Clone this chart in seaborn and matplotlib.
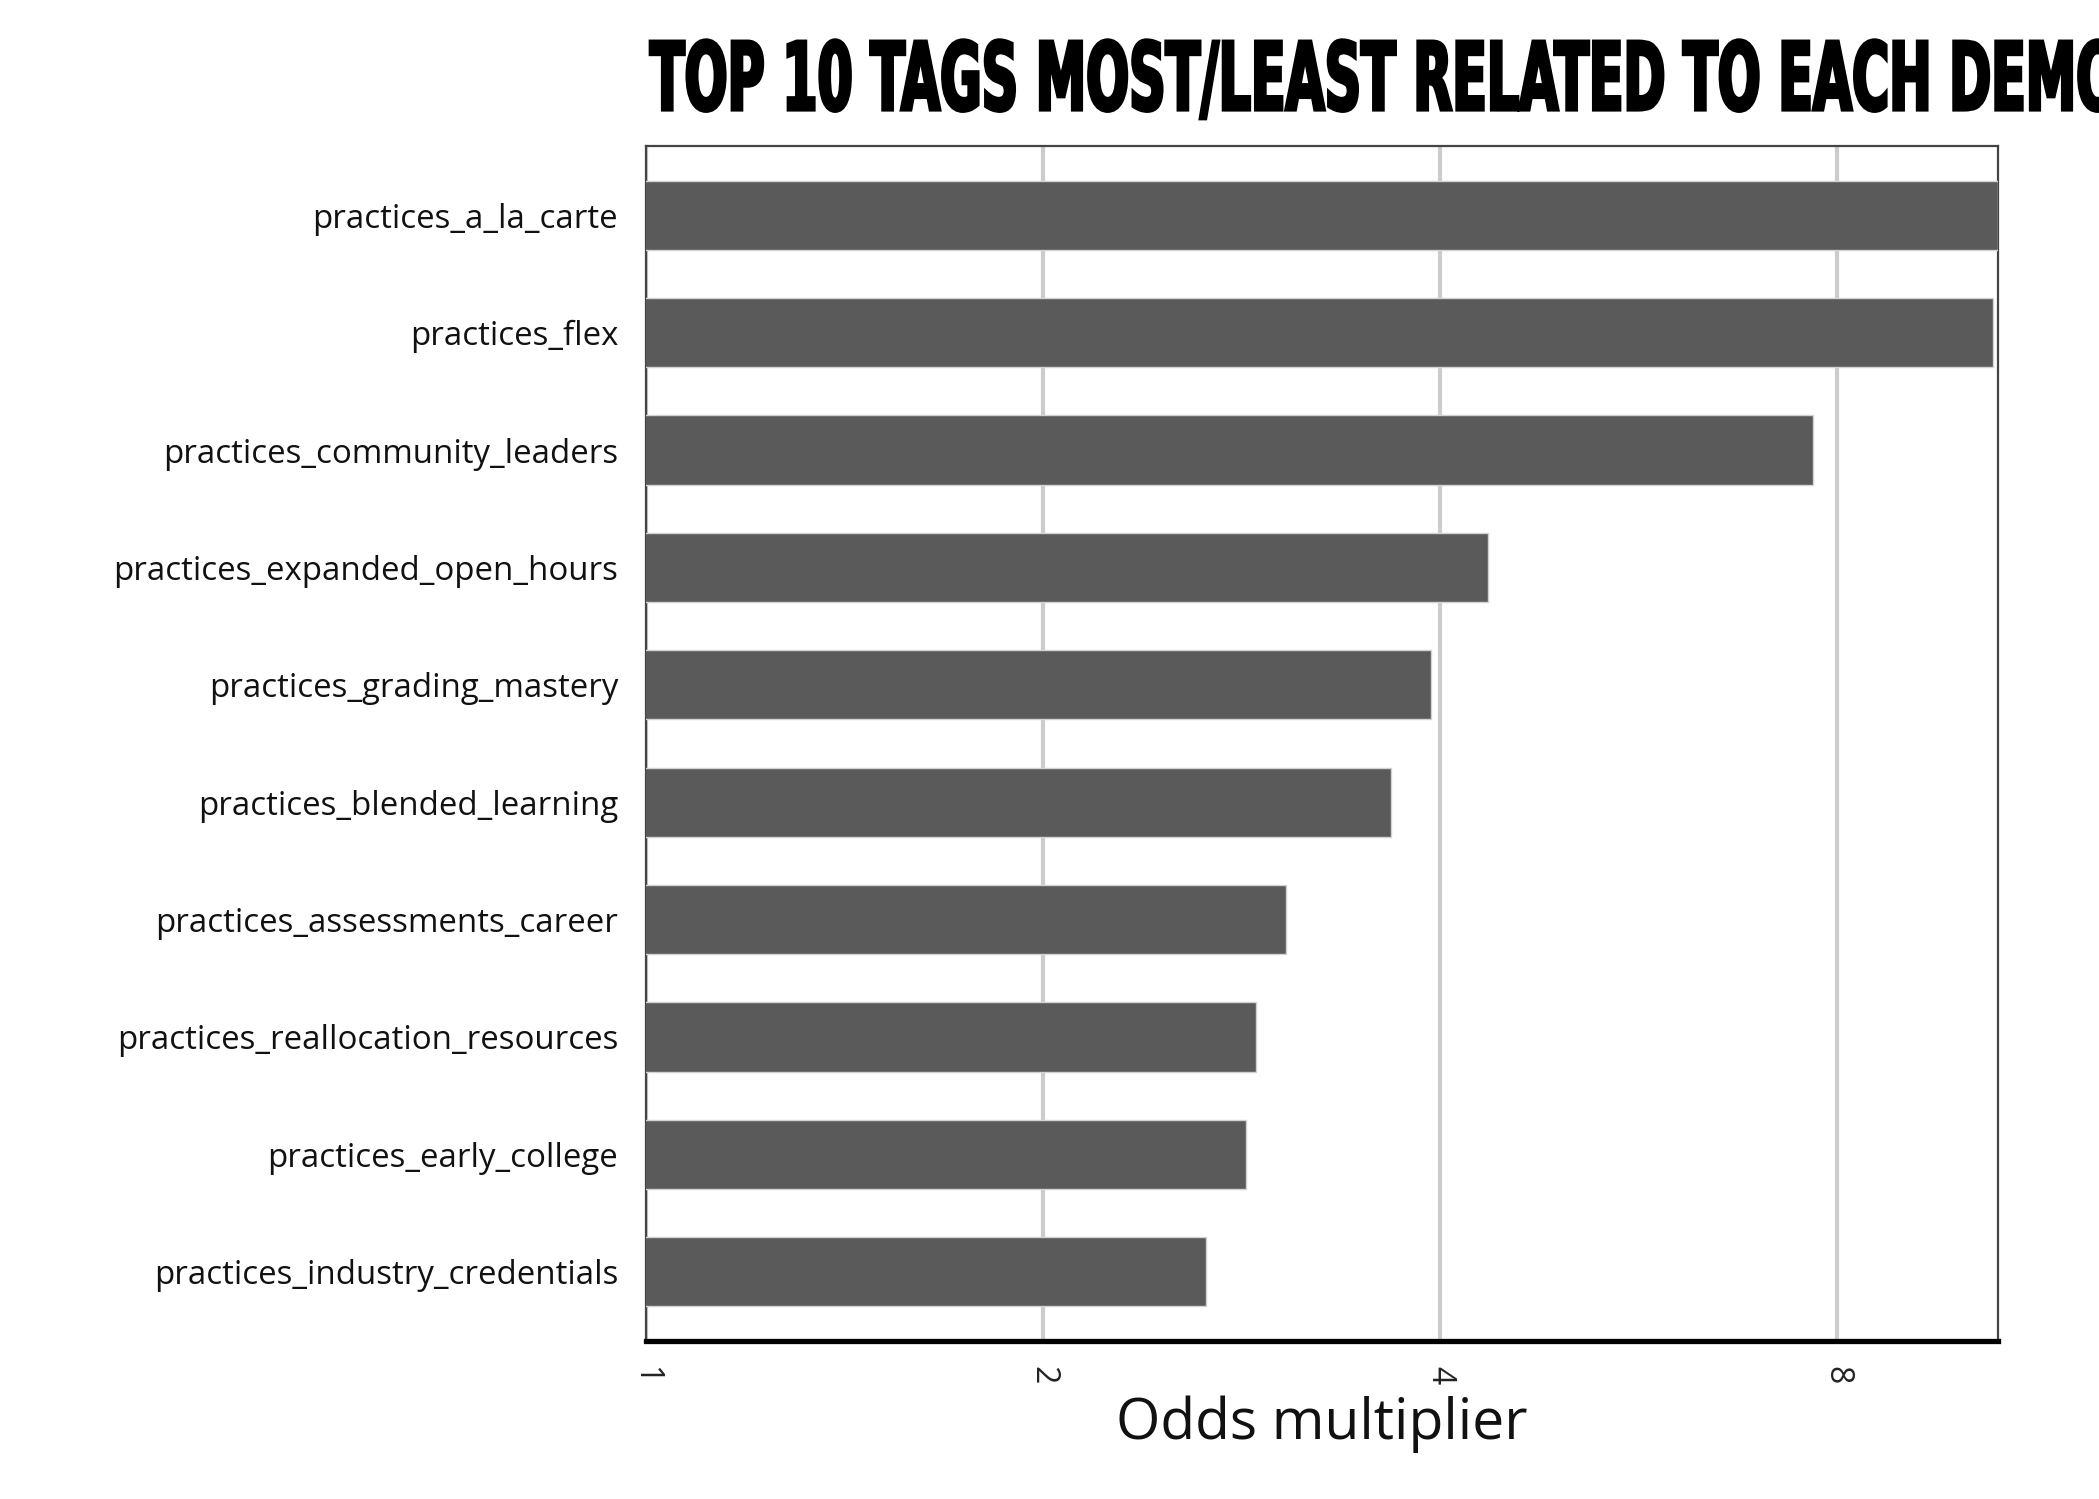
import matplotlib
matplotlib.use("Agg")
import matplotlib.pyplot as plt
import seaborn as sns
import pandas as pd
from matplotlib.ticker import FixedLocator, FixedFormatter, NullLocator
from matplotlib.patheffects import AbstractPathEffect
from matplotlib.transforms import Affine2D

# ---- data ----
tags = [
    "practices_a_la_carte",
    "practices_flex",
    "practices_community_leaders",
    "practices_expanded_open_hours",
    "practices_grading_mastery",
    "practices_blended_learning",
    "practices_assessments_career",
    "practices_reallocation_resources",
    "practices_early_college",
    "practices_industry_credentials",
]
odds = [10.6, 10.5, 7.68, 4.35, 3.94, 3.67, 3.06, 2.90, 2.85, 2.66]
tick_values = [1, 2, 4, 8]
tick_labels = ["1", "2", "4", "8"]
title_text = "TOP 10 TAGS MOST/LEAST RELATED TO EACH DEMOGRAPHIC"
x_label = "Odds multiplier"

df = pd.DataFrame({"tag": tags, "odds": odds})

sns.set_theme(style="white")
plt.rcParams["font.family"] = ["Open Sans", "DejaVu Sans"]

W, H = 2099, 1499
fig = plt.figure(figsize=(W / 100, H / 100), dpi=100)
ax = fig.add_axes([646 / W, 1 - 1341 / H, (1998 - 646) / W, (1341 - 146) / H])
ax.set_xscale("log", base=2)

sns.barplot(data=df, x="odds", y="tag", orient="h", color="#5a5a5a",
            saturation=1, width=0.59, edgecolor="#d2d2d2", linewidth=1,
            ax=ax, zorder=3)

ax.set_xlim(1, 10.6)
ax.set_ylim(9.59, -0.59)

ax.xaxis.set_major_locator(FixedLocator(tick_values))
ax.xaxis.set_major_formatter(FixedFormatter(tick_labels))
ax.xaxis.set_minor_locator(NullLocator())
ax.grid(axis="x", color="#cccccc", linewidth=3, zorder=0)
ax.grid(axis="y", visible=False)
ax.set_axisbelow(True)

ax.tick_params(axis="x", length=0, pad=18, labelsize=23, labelrotation=-90,
               labelcolor="#222222")
ax.tick_params(axis="y", length=0, pad=20, labelsize=23.8, labelcolor="#111111")
for lab in ax.get_xticklabels():
    lab.set_va("top")
    lab.set_ha("center")

ax.set_ylabel("")
ax.set_xlabel(x_label, fontsize=41, color="#111111")
ax.xaxis.set_label_coords(0.5, -0.046)

for side in ["left", "top", "right"]:
    ax.spines[side].set_color("#444444")
    ax.spines[side].set_linewidth(1.6)
ax.spines["bottom"].set_color("#000000")
ax.spines["bottom"].set_linewidth(3.8)


class Condense(AbstractPathEffect):
    """Squeeze text horizontally about a fixed x (display px) and embolden."""
    def __init__(self, sx, x0, stroke_pt):
        super().__init__()
        self.sx = sx
        self.x0 = x0
        self.stroke_pt = stroke_pt

    def draw_path(self, renderer, gc, tpath, affine, rgbFace=None):
        squeeze = Affine2D().translate(-self.x0, 0).scale(self.sx, 1).translate(self.x0, 0)
        gc0 = renderer.new_gc()
        gc0.copy_properties(gc)
        gc0.set_linewidth(self.stroke_pt)
        gc0.set_foreground(rgbFace if rgbFace is not None else "black")
        gc0.set_joinstyle("miter")
        renderer.draw_path(gc0, tpath, affine + squeeze, rgbFace)
        gc0.restore()


title_x = 650
fig.text(title_x / W, 1 - 110 / H, title_text, ha="left", va="baseline",
         fontsize=68, fontweight="bold", family=["DejaVu Sans"],
         color="#000000", path_effects=[Condense(0.536, title_x, 2.3)])

fig.savefig("out.png", dpi=100, facecolor="white")
